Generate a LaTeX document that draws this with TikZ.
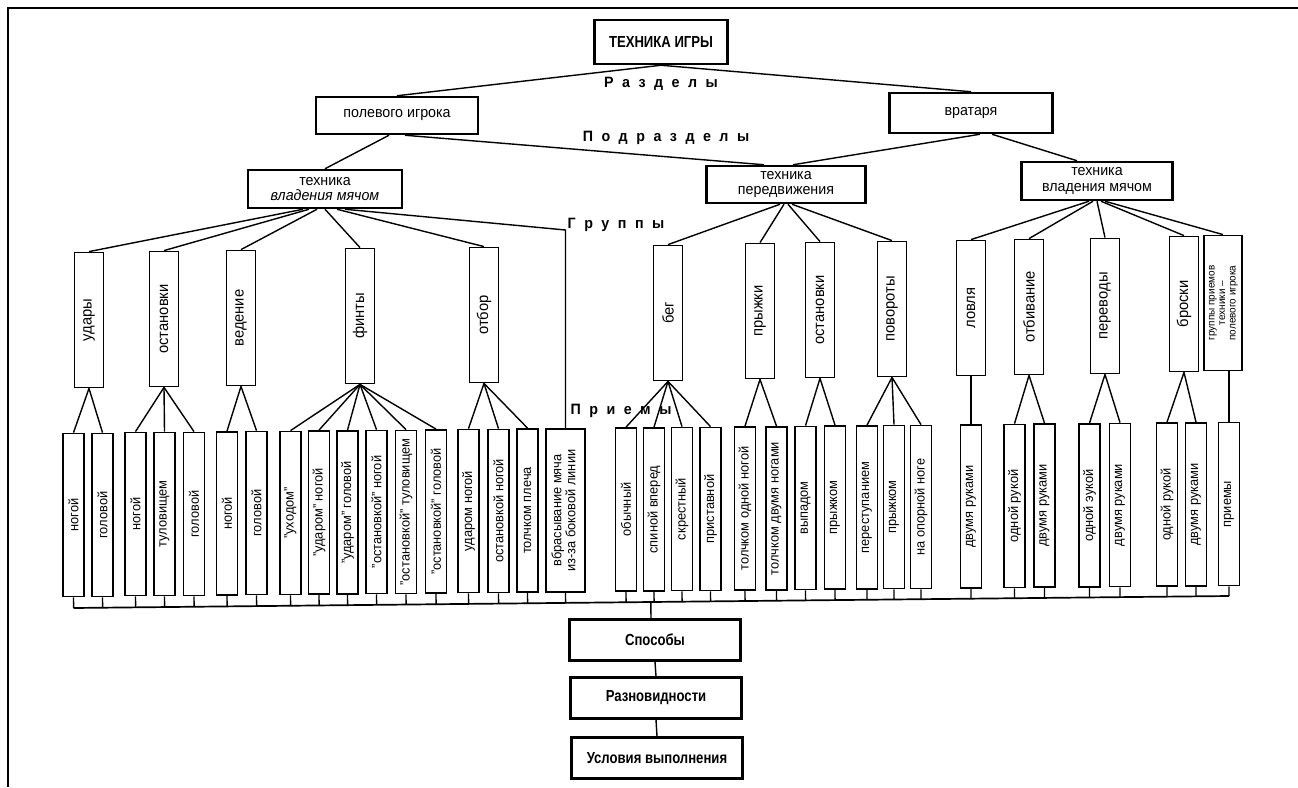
\documentclass[tikz,border=0pt]{standalone}
\usepackage{fontspec}
\setmainfont{Liberation Sans}[FakeStretch=0.95]
\newfontfamily\condf{Liberation Sans}[FakeStretch=0.82]
\usetikzlibrary{calc}
\newcommand{\vt}[1]{\rotatebox{90}{#1}}
\newcommand{\vtl}[1]{\rotatebox{90}{\begin{tabular}{@{}c@{}}#1\end{tabular}}}
\newcommand{\lsp}{\hspace{8.5pt}}
\tikzset{
  topbox/.style={draw, line width=2.5pt, inner sep=0pt, align=center, font=\fontsize{15}{15.5}\selectfont},
  botbox/.style={draw, line width=2.5pt, inner sep=0pt, minimum width=171pt, minimum height=41pt, font=\condf\bfseries\fontsize{16}{17}\selectfont},
  grpbox/.style={draw, line width=1.8pt, inner sep=0pt, minimum width=29pt, minimum height=135pt, font=\fontsize{15.5}{15.5}\selectfont},
  pbox/.style={draw, line width=1.8pt, inner sep=0pt, minimum width=21pt, minimum height=163pt, font=\fontsize{13.5}{13.5}\selectfont},
  lbl/.style={inner sep=0pt, font=\bfseries\fontsize{15}{16}\selectfont},
  conn/.style={line width=1.4pt},
}
\begin{document}
\begin{tikzpicture}[x=1pt,y=-1pt]
\useasboundingbox (0,0) rectangle (1298,787);
\draw[line width=2.5pt] (8,787) -- (8,8) -- (1298,8);

% top level
\node[topbox, minimum width=133pt, minimum height=44pt, font=\condf\bfseries\fontsize{16}{17}\selectfont] (T) at (661,42) {ТЕХНИКА ИГРЫ};
\node[topbox, minimum width=162pt, minimum height=37pt] (P) at (397,115.5) {полевого игрока};
\node[topbox, minimum width=163pt, minimum height=40pt] (V) at (971,113) {вратаря};
\node[topbox, minimum width=154pt, minimum height=38pt] (TL) at (325,189) {техника\\\textit{владения мячом}};
\node[topbox, minimum width=159pt, minimum height=37pt] (TM) at (786,184.5) {техника\\передвижения};
\node[topbox, minimum width=151pt, minimum height=38pt] (TR) at (1097,181) {техника\\владения мячом};

% section labels
\node[lbl] (l1) at (661,84) {Р\lsp а\lsp з\lsp д\lsp е\lsp л\lsp ы};
\node[lbl] (l2) at (666,138) {П\lsp о\lsp д\lsp р\lsp а\lsp з\lsp д\lsp е\lsp л\lsp ы};
\node[lbl] (l3) at (616,225) {Г\lsp р\lsp у\lsp п\lsp п\lsp ы};
\node[lbl] (l4) at (621,411) {П\lsp р\lsp и\lsp е\lsp м\lsp ы};

% groups
\node[grpbox] (g1) at (89,320) {\vt{удары}};
\node[grpbox] (g2) at (164,319) {\vt{остановки}};
\node[grpbox] (g3) at (241,318) {\vt{ведение}};
\node[grpbox] (g4) at (360,316) {\vt{финты}};
\node[grpbox] (g5) at (484,315) {\vt{отбор}};
\node[grpbox] (g6) at (668,313) {\vt{бег}};
\node[grpbox] (g7) at (760,311) {\vt{прыжки}};
\node[grpbox] (g8) at (820,310) {\vt{остановки}};
\node[grpbox] (g9) at (892,309) {\vt{повороты}};
\node[grpbox] (g10) at (971,308) {\vt{ловля}};
\node[grpbox] (g11) at (1029,307) {\vt{отбивание}};
\node[grpbox] (g12) at (1105,306) {\vt{переводы}};
\node[grpbox] (g13) at (1184,304) {\vt{броски}};
\node[grpbox, minimum width=38pt, font=\fontsize{10.5}{10.5}\selectfont] (g14) at (1223,303) {\vtl{группы приемов\\техники –\\полевого игрока}};

% techniques
\node[pbox] (b1) at (73.5,515) {\vt{ногой}};
\node[pbox] (b2) at (102.5,515) {\vt{головой}};
\node[pbox] (b3) at (135.5,514) {\vt{ногой}};
\node[pbox] (b4) at (164.5,514) {\vt{туловищем}};
\node[pbox] (b5) at (194,514) {\vt{головой}};
\node[pbox] (b6) at (227,513.5) {\vt{ногой}};
\node[pbox] (b7) at (256.5,513) {\vt{головой}};
\node[pbox] (b8) at (290.5,513) {\vt{"уходом"}};
\node[pbox] (b9) at (319,512.5) {\vt{"ударом" ногой}};
\node[pbox] (b10) at (347.5,512.5) {\vt{"ударом" головой}};
\node[pbox] (b11) at (376.5,512) {\vt{"остановкой" ногой}};
\node[pbox] (b12) at (406,512) {\vt{"остановкой" туловищем}};
\node[pbox] (b13) at (436,511.5) {\vt{"остановкой" головой}};
\node[pbox] (b14) at (468.5,511) {\vt{ударом ногой}};
\node[pbox] (b15) at (498.5,511) {\vt{остановкой ногой}};
\node[pbox] (b16) at (527.5,510.5) {\vt{толчком плеча}};
\node[pbox, minimum width=39pt] (b17) at (565.5,510.5) {\vtl{вбрасывание мяча\\из-за боковой линии}};
\node[pbox] (b18) at (626,509.5) {\vt{обычный}};
\node[pbox] (b19) at (654,509.5) {\vt{спиной вперед}};
\node[pbox] (b20) at (682,509) {\vt{скрестный}};
\node[pbox] (b21) at (710.5,509) {\vt{приставной}};
\node[pbox] (b22) at (745,508.5) {\vt{толчком одной ногой}};
\node[pbox] (b23) at (776.5,508.5) {\vt{толчком двумя ногами}};
\node[pbox] (b24) at (805.5,508) {\vt{выпадом}};
\node[pbox] (b25) at (835,507.5) {\vt{прыжком}};
\node[pbox] (b26) at (867,507.5) {\vt{переступанием}};
\node[pbox] (b27) at (894,507) {\vt{прыжком}};
\node[pbox] (b28) at (921,507) {\vt{на опорной ноге}};
\node[pbox] (b29) at (971,506.5) {\vt{двумя руками}};
\node[pbox] (b30) at (1014.5,506) {\vt{одной рукой}};
\node[pbox] (b31) at (1044.5,505.5) {\vt{двумя руками}};
\node[pbox] (b32) at (1089.5,505.5) {\vt{одной эукой}};
\node[pbox] (b33) at (1120,505) {\vt{двумя руками}};
\node[pbox] (b34) at (1167,504.5) {\vt{одной рукой}};
\node[pbox] (b35) at (1196,504.5) {\vt{двумя руками}};
\node[pbox] (b36) at (1229,504) {\vt{приемы}};

% bottom
\node[botbox] (sp) at (655,640) {Способы};
\node[botbox] (rz) at (656,698) {Разновидности};
\node[botbox] (us) at (657,758) {Условия выполнения};

% connectors top
\draw[conn] (T.south) -- (P.north);
\draw[conn] (T.south) -- (V.north);
\draw[conn] ([xshift=-8pt]P.south) -- (TL.north);
\draw[conn] ([xshift=8pt]P.south) -- ([xshift=-22pt]TM.north);
\draw[conn] ([xshift=9pt]V.south) -- ([xshift=7pt]TM.north);
\draw[conn] ([xshift=21pt]V.south) -- ([xshift=-20pt]TR.north);

% to groups
\draw[conn] ([xshift=-22pt]TL.south) -- (g1.north);
\draw[conn] ([xshift=-16pt]TL.south) -- (g2.north);
\draw[conn] ([xshift=-8pt]TL.south) -- (g3.north);
\draw[conn] (TL.south) -- (g4.north);
\draw[conn] ([xshift=12pt]TL.south) -- (g5.north);
\coordinate (vb) at (565.5,230);
\draw[conn] ([xshift=20pt]TL.south) -- (vb) -- (b17.north);
\draw[conn] ([xshift=-6pt]TM.south) -- (g6.north);
\draw[conn] ([xshift=-2pt]TM.south) -- (g7.north);
\draw[conn] ([xshift=2pt]TM.south) -- (g8.north);
\draw[conn] ([xshift=6pt]TM.south) -- (g9.north);
\draw[conn] ([xshift=-8pt]TR.south) -- (g10.north);
\draw[conn] ([xshift=-4pt]TR.south) -- (g11.north);
\draw[conn] (TR.south) -- (g12.north);
\draw[conn] ([xshift=4pt]TR.south) -- (g13.north);
\draw[conn] ([xshift=8pt]TR.south) -- (g14.north);

% groups to techniques
\foreach \g/\list in {g1/{b1,b2}, g2/{b3,b4,b5}, g3/{b6,b7}, g4/{b8,b9,b10,b11,b12,b13}, g5/{b14,b15,b16}, g6/{b18,b19,b20,b21}, g7/{b22,b23}, g8/{b24,b25}, g9/{b26,b27,b28}, g10/{b29}, g11/{b30,b31}, g12/{b32,b33}, g13/{b34,b35}}{
  \foreach \b in \list { \draw[conn] (\g.south) -- (\b.north); }
}
\draw[conn] (b36.north) -- (b36.north |- g14.south);

% bus
\coordinate (busL) at (73.5,608);
\coordinate (busR) at (1229,596);
\draw[conn, line width=1.7pt] (busL) -- (busR);
\foreach \i in {1,...,36}{ \draw[conn] (b\i.south) -- ($(busL)!(b\i.south)!(busR)$); }
\coordinate (spn) at ($(sp.north)+(-4,0)$);
\draw[conn] ($(busL)!(spn)!(busR)$) -- (spn);
\draw[conn] (sp.south) -- (rz.north);
\draw[conn] (rz.south) -- (us.north);
\end{tikzpicture}
\end{document}
